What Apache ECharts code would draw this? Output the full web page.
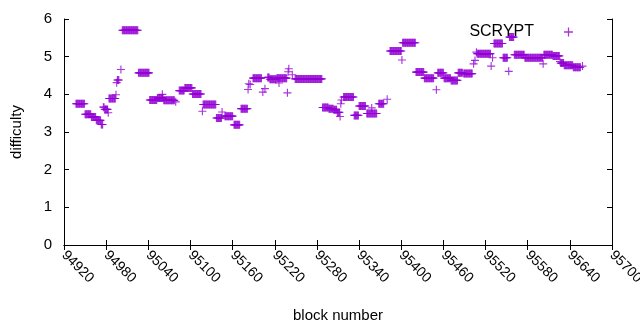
<!DOCTYPE html>
<html>
<head>
<meta charset="utf-8">
<script src="https://cdn.jsdelivr.net/npm/echarts@6/dist/echarts.min.js"></script>
<style>
  html, body { margin: 0; padding: 0; background: #fff; }
  #chart { width: 640px; height: 330px; }
</style>
</head>
<body>
<div id="chart"></div>
<script>
// difficulty stays flat between retargets, so each row is a run of blocks
var blockStart = [94937, 94950, 94959, 94966, 94973, 94976, 94978, 94983, 94984, 94994,
  94995, 94996, 95001, 95003, 95026, 95042, 95053, 95060, 95062, 95079,
  95084, 95092, 95103, 95117, 95118, 95137, 95145, 95149, 95162, 95172,
  95182, 95183, 95185, 95189, 95203, 95206, 95210, 95213, 95223, 95226,
  95238, 95239, 95240, 95245, 95249, 95288, 95297, 95304, 95309, 95313,
  95314, 95315, 95318, 95333, 95340, 95351, 95358, 95368, 95380, 95384,
  95401, 95402, 95421, 95433, 95450, 95452, 95461, 95471, 95481, 95489,
  95503, 95505, 95507, 95508, 95528, 95530, 95532, 95545, 95553, 95554,
  95561, 95576, 95602, 95603, 95616, 95626, 95627, 95632, 95645, 95658];
var blockEnd = [94949, 94958, 94965, 94972, 94975, 94977, 94982, 94983, 94993, 94994,
  94995, 94998, 95001, 95025, 95041, 95052, 95061, 95060, 95077, 95079,
  95091, 95102, 95115, 95117, 95136, 95144, 95145, 95160, 95170, 95181,
  95182, 95183, 95185, 95201, 95203, 95206, 95212, 95222, 95237, 95226,
  95238, 95239, 95240, 95245, 95287, 95296, 95303, 95308, 95312, 95313,
  95314, 95315, 95332, 95339, 95349, 95365, 95358, 95375, 95380, 95400,
  95401, 95420, 95432, 95446, 95450, 95460, 95470, 95480, 95487, 95501,
  95503, 95505, 95507, 95527, 95528, 95530, 95544, 95551, 95553, 95560,
  95575, 95601, 95602, 95615, 95625, 95626, 95631, 95644, 95655, 95658];
var difficulty = [3.75, 3.47, 3.40, 3.31, 3.20, 3.66, 3.60, 3.51, 3.89, 3.99,
  4.31, 4.38, 4.66, 5.70, 4.57, 3.85, 3.90, 4.00, 3.84, 3.80,
  4.10, 4.17, 4.01, 3.55, 3.73, 3.37, 3.53, 3.42, 3.19, 3.62,
  4.13, 4.28, 4.26, 4.43, 4.06, 4.15, 4.45, 4.40, 4.43, 4.30,
  4.04, 4.60, 4.68, 4.52, 4.41, 3.65, 3.62, 3.59, 3.52, 3.41,
  3.75, 3.85, 3.93, 3.44, 3.69, 3.49, 3.64, 3.75, 3.87, 5.15,
  4.91, 5.37, 4.59, 4.43, 4.12, 4.57, 4.43, 4.37, 4.57, 4.55,
  4.81, 4.90, 5.12, 5.08, 4.75, 4.97, 5.35, 4.97, 4.61, 5.52,
  5.05, 4.97, 4.81, 5.05, 5.02, 4.87, 4.83, 4.77, 4.72, 4.75];

var plus = 'path://M4.3,0H5.7V4.3H10V5.7H5.7V10H4.3V5.7H0V4.3H4.3Z';
var points = [];
for (var i = 0; i < blockStart.length; i++) {
  for (var b = blockStart[i]; b <= blockEnd[i]; b++) {
    points.push([b, difficulty[i]]);
  }
}

var font = 'Liberation Sans, Arial, sans-serif';
var myChart = echarts.init(document.getElementById('chart'));
var option = {
  animation: false,
  backgroundColor: '#fff',
  textStyle: { fontFamily: font, color: '#000' },
  grid: { left: 64, right: 28, top: 19, bottom: 85, outerBoundsMode: 'none', containLabel: false },
  legend: {
    right: 62,
    top: 19,
    align: 'right',
    itemWidth: 9,
    itemHeight: 9,
    itemGap: 0,
    textStyle: { fontFamily: font, fontSize: 16, color: '#000', padding: [0, 25, 0, 0] },
    data: [{ name: 'SCRYPT', icon: plus }]
  },
  xAxis: [{
    type: 'value',
    min: 94920,
    max: 95700,
    interval: 60,
    name: 'block number',
    nameLocation: 'middle',
    nameGap: 63,
    nameTextStyle: { fontSize: 15, color: '#000' },
    axisLine: { show: true, lineStyle: { color: '#000', width: 1 } },
    axisTick: { inside: true, length: 5, lineStyle: { color: '#000' } },
    axisLabel: {
      rotate: -45, margin: 8, fontSize: 14, color: '#000', fontFamily: font,
      showMinLabel: true, showMaxLabel: true,
      formatter: function(v) { return String(v); }
    },
    splitLine: { show: false }
  }, {
    type: 'value',
    position: 'top',
    min: 94920,
    max: 95700,
    interval: 60,
    axisLine: { show: true, lineStyle: { color: '#000', width: 1 } },
    axisTick: { inside: true, length: 5, lineStyle: { color: '#000' } },
    axisLabel: { show: false },
    splitLine: { show: false }
  }],
  yAxis: [{
    type: 'value',
    min: 0,
    max: 6,
    interval: 1,
    name: 'difficulty',
    nameLocation: 'middle',
    nameGap: 40,
    nameTextStyle: { fontSize: 15, color: '#000' },
    axisLine: { show: true, lineStyle: { color: '#000', width: 1 } },
    axisTick: { inside: true, length: 5, lineStyle: { color: '#000' } },
    axisLabel: { margin: 12, fontSize: 15, color: '#000', fontFamily: font },
    splitLine: { show: false }
  }, {
    type: 'value',
    position: 'right',
    min: 0,
    max: 6,
    interval: 1,
    axisLine: { show: true, lineStyle: { color: '#000', width: 1 } },
    axisTick: { inside: true, length: 5, lineStyle: { color: '#000' } },
    axisLabel: { show: false },
    splitLine: { show: false }
  }],
  series: [{
    name: 'SCRYPT',
    type: 'scatter',
    symbol: plus,
    symbolSize: 8,
    itemStyle: { color: '#9400d3' },
    data: points
  }]
};
myChart.setOption(option);
</script>
</body>
</html>
